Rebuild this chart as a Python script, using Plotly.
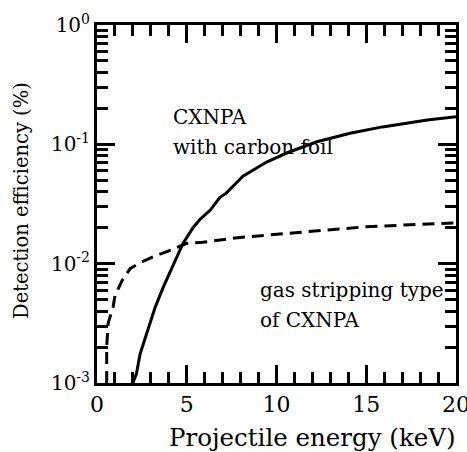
import plotly.graph_objects as go

# Solid curve: CXNPA with carbon foil
foil_energy = [2.0, 2.2, 2.4, 2.84, 3.23, 3.68, 4.18, 4.79, 5.35, 5.74, 6.3, 6.85, 7.2, 8.13, 9.45, 10.6, 12.25, 14.1, 15.9, 18.4, 20.0]
foil_eff = [1.0e-3, 1.2e-3, 1.75e-3, 2.75e-3, 4.27e-3, 6.3e-3, 9.3e-3, 1.48e-2, 2.0e-2, 2.35e-2, 2.8e-2, 3.6e-2, 3.9e-2, 5.4e-2, 7.1e-2, 8.5e-2, 0.105, 0.124, 0.14, 0.16, 0.17]

# Dashed curve: gas stripping type of CXNPA
gas_energy = [0.54, 0.54, 0.62, 0.9, 1.0, 1.4, 1.85, 2.4, 3.3, 4.07, 5.0, 5.9, 7.97, 11.3, 15.0, 20.0]
gas_eff = [1.0e-3, 2.0e-3, 3.16e-3, 4.37e-3, 5.37e-3, 7.24e-3, 9.1e-3, 1.02e-2, 1.17e-2, 1.29e-2, 1.48e-2, 1.51e-2, 1.66e-2, 1.84e-2, 2.04e-2, 2.2e-2]

y_tickvals = [1e-3, 1e-2, 1e-1, 1]
y_ticktext = ["10<sup>-3</sup>", "10<sup>-2</sup>", "10<sup>-1</sup>", "10<sup>0</sup>"]
x_tickvals = [0, 5, 10, 15, 20]

x_title = "Projectile energy (keV)"
y_title = "Detection efficiency (%)"

FONT = "DejaVu Serif"
ANN = dict(family=FONT, size=20, color="black")

fig = go.Figure()
fig.add_trace(go.Scatter(x=foil_energy, y=foil_eff, mode="lines",
                         line=dict(color="black", width=3), showlegend=False))
fig.add_trace(go.Scatter(x=gas_energy, y=gas_eff, mode="lines",
                         line=dict(color="black", width=3, dash="12px,7px"), showlegend=False))

fig.add_annotation(x=4.12, y=-0.77, xref="x", yref="y", text="CXNPA", showarrow=False,
                   xanchor="left", yanchor="middle", font=ANN)
fig.add_annotation(x=4.12, y=-1.02, xref="x", yref="y", text="with carbon foil", showarrow=False,
                   xanchor="left", yanchor="middle", font=ANN)
fig.add_annotation(x=8.97, y=-2.22, xref="x", yref="y", text="gas stripping type", showarrow=False,
                   xanchor="left", yanchor="middle", font=ANN)
fig.add_annotation(x=8.97, y=-2.47, xref="x", yref="y", text="of CXNPA", showarrow=False,
                   xanchor="left", yanchor="middle", font=ANN)

# Axis titles (placed as paper annotations to match the reference offsets)
fig.add_annotation(x=0.599, y=-0.151, xref="paper", yref="paper", text=x_title, showarrow=False,
                   xanchor="center", yanchor="middle", font=dict(family=FONT, size=24.5, color="black"))
fig.add_annotation(x=-0.212, y=0.511, xref="paper", yref="paper", text=y_title, showarrow=False,
                   textangle=-90, xanchor="center", yanchor="middle",
                   font=dict(family=FONT, size=19.5, color="black"))

fig.update_xaxes(range=[0, 20], tickvals=x_tickvals, ticks="inside", ticklen=18, tickwidth=3,
                 tickcolor="black", showline=True, linewidth=3, linecolor="black", mirror="allticks",
                 showgrid=False, zeroline=False, automargin=False, ticklabeloverflow="allow",
                 minor=dict(dtick=1, ticks="inside", ticklen=11, tickwidth=3, tickcolor="black", showgrid=False),
                 tickfont=dict(family=FONT, size=22, color="black"))
fig.update_yaxes(type="log", range=[-3, 0], tickvals=y_tickvals, ticktext=y_ticktext, ticks="inside",
                 ticklen=18, tickwidth=3, tickcolor="black", showline=True, linewidth=3, linecolor="black",
                 mirror="allticks", showgrid=False, zeroline=False, automargin=False,
                 minor=dict(dtick="D1", ticks="inside", ticklen=11, tickwidth=3, tickcolor="black", showgrid=False),
                 tickfont=dict(family=FONT, size=20, color="black"))

fig.update_layout(width=467, height=452, margin=dict(l=97, r=11, t=25, b=69, autoexpand=False),
                  plot_bgcolor="white", paper_bgcolor="white",
                  font=dict(family=FONT, color="black"))

fig.write_html("out.html", config={"displayModeBar": False},
               post_script="document.body.style.margin='0';document.body.style.padding='0';")
